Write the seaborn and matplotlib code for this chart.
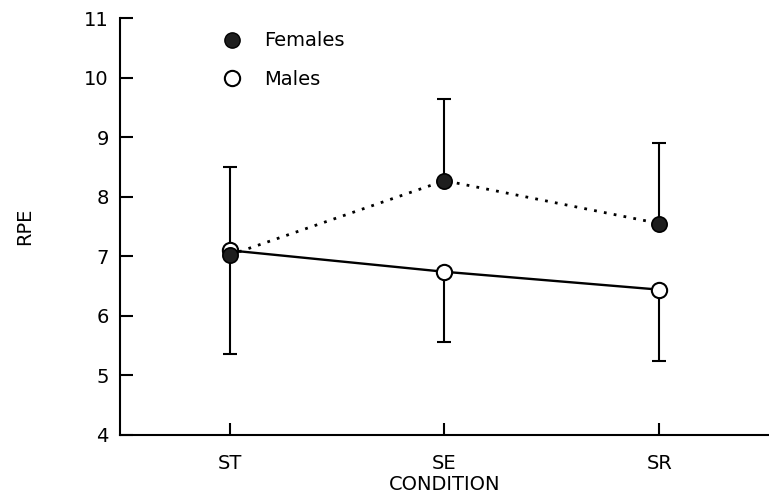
import numpy as np
import pandas as pd
import seaborn as sns
import matplotlib.pyplot as plt
from matplotlib.lines import Line2D

# values
conditions = ['ST', 'SE', 'SR']
females_rpe = [7.02, 8.27, 7.55]
females_err_up = [1.48, 1.37, 1.35]
males_rpe = [7.10, 6.74, 6.44]
males_err_down = [1.74, 1.18, 1.20]

df = pd.DataFrame({
    'condition': conditions * 2,
    'sex': ['Females'] * 3 + ['Males'] * 3,
    'rpe': females_rpe + males_rpe,
})

sns.set_style('ticks')
plt.rcParams['font.family'] = ['DejaVu Sans']
plt.rcParams['text.color'] = 'black'
plt.rcParams['axes.labelcolor'] = 'black'
plt.rcParams['xtick.color'] = 'black'
plt.rcParams['ytick.color'] = 'black'

fig = plt.figure(figsize=(7.69, 5), dpi=100)
ax = fig.add_axes([0.156, 0.13, 0.844, 0.834])

# one-sided error bars: up for females, down for males
ax.errorbar(conditions, males_rpe, yerr=[males_err_down, [0, 0, 0]],
            fmt='none', ecolor='black', elinewidth=1.5, capsize=5,
            capthick=1.5, zorder=1)
ax.errorbar(conditions, females_rpe, yerr=[[0, 0, 0], females_err_up],
            fmt='none', ecolor='black', elinewidth=1.5, capsize=5,
            capthick=1.5, zorder=1)

sns.lineplot(data=df[df.sex == 'Males'], x='condition', y='rpe', ax=ax,
             color='black', lw=1.7, marker='o', markersize=11,
             markerfacecolor='white', markeredgecolor='black',
             markeredgewidth=1.5, zorder=3)
sns.lineplot(data=df[df.sex == 'Females'], x='condition', y='rpe', ax=ax,
             color='black', lw=2, linestyle=(0, (1, 2.6)), marker='o',
             markersize=11, markerfacecolor='#1e1e1e',
             markeredgecolor='black', markeredgewidth=1.2, zorder=4)

ax.set_xlim(-0.51, 2.51)
ax.set_ylim(4, 11)
ax.set_yticks(range(4, 12))
sns.despine(ax=ax)
ax.spines['left'].set_linewidth(1.5)
ax.spines['bottom'].set_linewidth(1.5)
ax.spines['left'].set_color('black')
ax.spines['bottom'].set_color('black')
ax.tick_params(axis='y', direction='in', length=9, width=1.5, pad=8,
               labelsize=14)
ax.tick_params(axis='x', direction='in', length=9, width=1.5, pad=14,
               labelsize=14)
ax.set_xlabel('CONDITION', fontsize=14, labelpad=1)
ax.set_ylabel('RPE', fontsize=14, labelpad=36)

handles = [
    Line2D([], [], ls='none', marker='o', markersize=11,
           markerfacecolor='#1e1e1e', markeredgecolor='black'),
    Line2D([], [], ls='none', marker='o', markersize=11,
           markerfacecolor='white', markeredgecolor='black',
           markeredgewidth=1.5),
]
ax.legend(handles, ['Females', 'Males'], loc='upper left',
          bbox_to_anchor=(0.115, 1.01), frameon=False, fontsize=14,
          handletextpad=0.7, labelspacing=1.0)

fig.savefig('out.png', dpi=100)
